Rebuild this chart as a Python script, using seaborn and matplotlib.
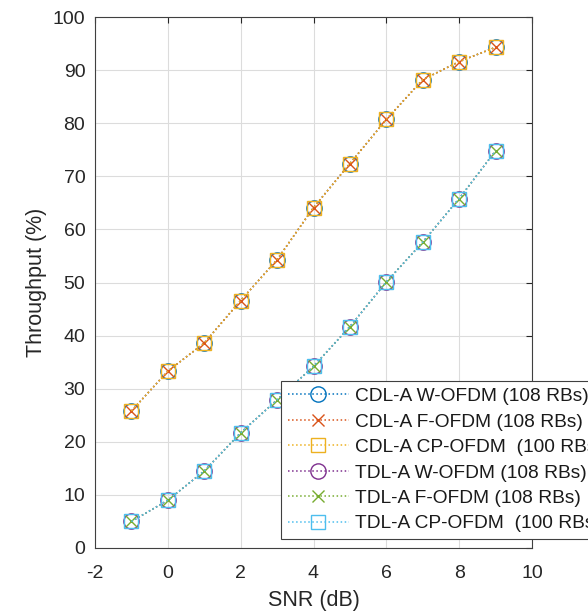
import matplotlib
matplotlib.use("Agg")
import matplotlib.pyplot as plt
import seaborn as sns
import pandas as pd

snr = [-1, 0, 1, 2, 3, 4, 5, 6, 7, 8, 9]
cdl_w = [25.8, 33.3, 38.6, 46.6, 54.3, 64.1, 72.4, 80.7, 88.2, 91.6, 94.3]
cdl_f = [25.8, 33.3, 38.6, 46.6, 54.3, 64.1, 72.4, 80.7, 88.2, 91.6, 94.3]
cdl_cp = [25.8, 33.3, 38.6, 46.6, 54.3, 64.1, 72.4, 80.7, 88.2, 91.6, 94.3]
tdl_w = [5.0, 9.0, 14.5, 21.7, 27.9, 34.2, 41.7, 50.1, 57.6, 65.8, 74.8]
tdl_f = [5.0, 9.0, 14.5, 21.7, 27.9, 34.2, 41.7, 50.1, 57.6, 65.8, 74.8]
tdl_cp = [5.0, 9.0, 14.5, 21.7, 27.9, 34.2, 41.7, 50.1, 57.6, 65.8, 74.8]
labels = ["CDL-A W-OFDM (108 RBs)", "CDL-A F-OFDM (108 RBs)", "CDL-A CP-OFDM  (100 RBs)",
          "TDL-A W-OFDM (108 RBs)", "TDL-A F-OFDM (108 RBs)", "TDL-A CP-OFDM  (100 RBs)"]
series = [cdl_w, cdl_f, cdl_cp, tdl_w, tdl_f, tdl_cp]

colors = [(0, 0.447, 0.741), (0.85, 0.325, 0.098), (0.929, 0.694, 0.125),
          (0.494, 0.184, 0.556), (0.466, 0.674, 0.188), (0.301, 0.745, 0.933)]
markers = ["o", "x", "s", "o", "x", "s"]
msizes = [11, 9, 10, 11, 9, 10]

sns.set_style("white")
plt.rcParams["font.family"] = ["Liberation Sans", "DejaVu Sans"]
plt.rcParams["axes.unicode_minus"] = False

fig = plt.figure(figsize=(5.88, 6.12), dpi=100)
ax = fig.add_axes([95/588, 1-548/612, 437/588, 531/612])

for vals, lab, c, m, ms in zip(series, labels, colors, markers, msizes):
    df = pd.DataFrame({"SNR": snr, "Throughput": vals})
    sns.lineplot(data=df, x="SNR", y="Throughput", ax=ax, color=c, linestyle=":",
                 linewidth=1.1, marker=m, markersize=ms, markerfacecolor="none",
                 markeredgecolor=c, markeredgewidth=1.0, label=lab)

ax.set_xlim(-2, 10)
ax.set_ylim(0, 100)
ax.set_xticks(range(-2, 11, 2))
ax.set_yticks(range(0, 101, 10))
ax.grid(True, color="#dcdcdc", linewidth=0.8)
ax.tick_params(direction="in", length=4, labelsize=14, colors="#262626",
               top=True, right=True, labeltop=False, labelright=False, width=0.8)
ax.tick_params(axis="x", pad=12)
ax.tick_params(axis="y", pad=7)
for s in ax.spines.values():
    s.set_color("#404040")
    s.set_linewidth(0.8)
ax.set_xlabel("SNR (dB)", fontsize=15.5, color="#262626", labelpad=6)
ax.set_ylabel("Throughput (%)", fontsize=15.5, color="#262626", labelpad=4)

leg = ax.legend(loc="upper left", bbox_to_anchor=(281/588, 1-381/612),
                bbox_transform=fig.transFigure, borderaxespad=0, fontsize=13.8,
                frameon=True, fancybox=False, framealpha=1, edgecolor="#404040",
                handlelength=3.2, handletextpad=0.3, labelspacing=0.42,
                borderpad=0.35)
leg.get_frame().set_linewidth(0.8)
for t in leg.get_texts():
    t.set_color("#1a1a1a")

fig.savefig("out.png", dpi=100)
